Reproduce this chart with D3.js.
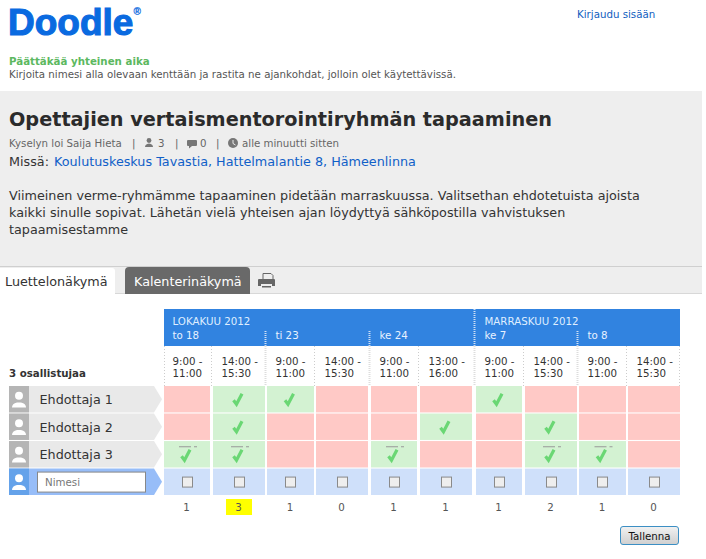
<!DOCTYPE html>
<html>
<head>
<meta charset="utf-8">
<script src="https://cdn.jsdelivr.net/npm/d3@7"></script>
<style>
html, body { margin: 0; padding: 0; background: #fff; }
svg { display: block; }
text { font-family: "DejaVu Sans", sans-serif; }
</style>
</head>
<body>
<div id="chart"></div>
<script>
// the poll
var months = [{label: "LOKAKUU 2012", slot: 0}, {label: "MARRASKUU 2012", slot: 6}];
var days = [
  {label: "to 18", slot: 0},
  {label: "ti 23", slot: 2},
  {label: "ke 24", slot: 4},
  {label: "ke 7", slot: 6},
  {label: "to 8", slot: 8}
];
var startTimes = ["9:00 -", "14:00 -", "9:00 -", "14:00 -", "9:00 -", "13:00 -", "9:00 -", "14:00 -", "9:00 -", "14:00 -"];
var endTimes = ["11:00", "15:30", "11:00", "15:30", "11:00", "16:00", "11:00", "15:30", "11:00", "15:30"];
var participants = ["Ehdottaja 1", "Ehdottaja 2", "Ehdottaja 3"];
var answers1 = [0, 1, 1, 0, 0, 0, 1, 0, 0, 0];
var answers2 = [0, 1, 0, 0, 0, 1, 0, 1, 0, 0];
var answers3 = [1, 1, 0, 0, 1, 0, 0, 1, 1, 0];
var totals = [1, 3, 1, 0, 1, 1, 1, 2, 1, 0];

var paragraph = [
  "Viimeinen verme-ryhmämme tapaaminen pidetään marraskuussa. Valitsethan ehdotetuista ajoista",
  "kaikki sinulle sopivat. Lähetän vielä yhteisen ajan löydyttyä sähköpostilla vahvistuksen",
  "tapaamisestamme"
];

var width = 706, height = 559;
var small = 10.25, body = 12.75;
var svg = d3.select("#chart").append("svg")
    .attr("width", width)
    .attr("height", height);

// column edges are uneven in the original table
var slotIds = d3.range(startTimes.length);
var colLeft = d3.scaleOrdinal().domain(slotIds).range([164, 213, 267, 316, 371, 420, 476, 525, 579, 628]);
var colWidth = d3.scaleOrdinal().domain(slotIds).range([46, 52, 47, 52, 46, 52, 46, 52, 47, 52]);
var rowY = d3.scaleBand().domain(d3.range(4)).range([386, 495]).paddingInner(0.04);
var cellFill = d3.scaleOrdinal().domain([0, 1]).range(["#ffc9c6", "#d3f2d2"]);

function label(x, y, str, size, fill, weight) {
  return svg.append("text")
    .attr("x", x).attr("y", y)
    .attr("font-size", size)
    .attr("fill", fill)
    .attr("font-weight", weight || "normal")
    .text(str);
}

// top of page, logo and its mark are one text
var logo = label(8, 35, "Doodle", 37, "#0a6ae0", "bold")
  .style("font-family", "'Liberation Sans', sans-serif")
  .attr("stroke", "#0a6ae0")
  .attr("stroke-width", 1.1);
logo.append("tspan")
  .attr("dy", -20)
  .attr("font-size", 10)
  .attr("stroke-width", 0.2)
  .text("®");
label(577, 18, "Kirjaudu sisään", small, "#1060c0");
label(9, 65, "Päättäkää yhteinen aika", small, "#5cb860", "bold");
label(9, 78, "Kirjoita nimesi alla olevaan kenttään ja rastita ne ajankohdat, jolloin olet käytettävissä.", small, "#555");

// grey info panel
svg.append("rect").attr("x", 0).attr("y", 91).attr("width", 702).attr("height", 175).attr("fill", "#eeeeee");
label(9, 126, "Opettajien vertaismentorointiryhmän tapaaminen", 19.25, "#2b2b2b", "bold");
label(9, 147, "Kyselyn loi Saija Hieta", small, "#666");
label(132, 147, "|", small, "#666");
label(158, 147, "3", small, "#666");
label(175, 147, "|", small, "#666");
label(200, 147, "0", small, "#666");
label(216, 147, "|", small, "#666");
label(242, 147, "alle minuutti sitten", small, "#666");
label(9, 166, "Missä:", body, "#333");
label(54, 166, "Koulutuskeskus Tavastia, Hattelmalantie 8, Hämeenlinna", body, "#1060c8");

svg.append("g").selectAll("text")
  .data(paragraph)
  .enter()
  .append("text")
    .attr("x", 9)
    .attr("y", (d, i) => 200 + i * 17)
    .attr("font-size", body)
    .attr("fill", "#333")
    .text(d => d);

// small meta icons
var meta = svg.append("g").attr("fill", "#777");
meta.append("circle").attr("cx", 149).attr("cy", 140.5).attr("r", 2.4);
meta.append("path").attr("d", "M145 147 q0 -3 4 -3.5 q4 0.5 4 3.5z");
meta.append("path").attr("d", "M188 140 h8 q1 0 1 1 v4 q0 1 -1 1 h-4 l-3 2.5 v-2.5 h-1 q-1 0 -1 -1 v-4 q0 -1 1 -1z");
meta.append("circle").attr("cx", 233).attr("cy", 143).attr("r", 5);
meta.append("path").attr("d", "M233 140 v3.5 l2.5 1.5").attr("stroke", "#eee").attr("fill", "none");

// tab strip
svg.append("rect").attr("x", 0).attr("y", 266).attr("width", 702).attr("height", 1).attr("fill", "#cfcfcf");
svg.append("rect").attr("x", 0).attr("y", 267).attr("width", 702).attr("height", 26).attr("fill", "#eeeeee");
svg.append("rect").attr("x", 0).attr("y", 293).attr("width", 702).attr("height", 1).attr("fill", "#d8d8d8");
svg.append("path").attr("d", "M0 268 h112 q3 0 3 3 v24 h-115z").attr("fill", "#fff");
svg.append("path").attr("d", "M129 267 h117 q4 0 4 4 v23 h-125 v-23 q0 -4 4 -4z").attr("fill", "#696969");
label(5, 286, "Luettelonäkymä", body, "#333");
label(134, 286, "Kalenterinäkymä", body, "#fff");

// printer icon
var printer = svg.append("g").attr("fill", "#666");
printer.append("path").attr("d", "M263 279 v-5.5 h8 l2 2 v3.5").attr("fill", "none").attr("stroke", "#666").attr("stroke-width", 1);
printer.append("path").attr("d", "M259 279 h15 q1 0 1 1 v6 h-3 v-2 h-11 v2 h-3 v-6 q0 -1 1 -1z");
printer.append("rect").attr("x", 262).attr("y", 286).attr("width", 9).attr("height", 1.5);

// table header
var lastSlot = slotIds[slotIds.length - 1];
var tableRight = colLeft(lastSlot) + colWidth(lastSlot);
svg.append("rect").attr("x", colLeft(0)).attr("y", 309).attr("width", tableRight - colLeft(0)).attr("height", 37).attr("fill", "#3183e0");

svg.append("g").selectAll("text")
  .data(months)
  .enter()
  .append("text")
    .attr("x", d => colLeft(d.slot) + 8.5)
    .attr("y", 325)
    .attr("font-size", small)
    .attr("fill", "#dfeeff")
    .text(d => d.label);

svg.append("g").selectAll("text")
  .data(days)
  .enter()
  .append("text")
    .attr("x", d => colLeft(d.slot) + 8.5)
    .attr("y", 339)
    .attr("font-size", small)
    .attr("fill", "#e8f2ff")
    .text(d => d.label);

// dotted separators between days and slots
var sep = svg.append("g");
days.slice(1).forEach(function(d) {
  var isMonth = months.some(m => m.slot === d.slot);
  sep.append("line")
    .attr("x1", colLeft(d.slot) - 1.5).attr("x2", colLeft(d.slot) - 1.5)
    .attr("y1", isMonth ? 309 : 331).attr("y2", 346)
    .attr("stroke", "#cfe0f5").attr("stroke-width", 2).attr("stroke-dasharray", "1 1");
  sep.append("line")
    .attr("x1", colLeft(d.slot) - 1.5).attr("x2", colLeft(d.slot) - 1.5)
    .attr("y1", 346).attr("y2", 386)
    .attr("stroke", "#dddddd").attr("stroke-width", 2).attr("stroke-dasharray", "1 1");
});
slotIds.filter(i => i % 2 === 1 || i === 0).forEach(function(i) {
  var x = i === 0 ? colLeft(0) + 0.5 : colLeft(i) - 1.5;
  sep.append("line")
    .attr("x1", x).attr("x2", x)
    .attr("y1", 346).attr("y2", 386)
    .attr("stroke", "#cccccc").attr("stroke-dasharray", "1 2");
});
sep.append("line")
  .attr("x1", tableRight - 0.5).attr("x2", tableRight - 0.5)
  .attr("y1", 346).attr("y2", 386)
  .attr("stroke", "#cccccc").attr("stroke-dasharray", "1 2");

// times
var timeCols = svg.append("g").selectAll("g")
  .data(slotIds)
  .enter()
  .append("g")
    .attr("transform", d => "translate(" + (colLeft(d) + 8.5) + ",0)");
timeCols.append("text")
  .attr("y", 365)
  .attr("font-size", small)
  .attr("fill", "#333")
  .text(d => startTimes[d]);
timeCols.append("text")
  .attr("y", 377)
  .attr("font-size", small)
  .attr("fill", "#333")
  .text(d => endTimes[d]);

label(9, 377, "3 osallistujaa", small, "#333", "bold");

// participant labels
var rowLabels = participants.concat([null]);
var rowsG = svg.append("g").selectAll("g")
  .data(rowLabels)
  .enter()
  .append("g")
    .attr("transform", (d, i) => "translate(9," + rowY(i) + ")");
var rh = rowY.bandwidth();
rowsG.append("path")
  .attr("d", "M0 0 H145 L153 " + (rh / 2) + " L145 " + rh + " H0z")
  .attr("fill", d => d ? "#e9e9e9" : "#97bdf8");
rowsG.append("rect")
  .attr("width", 20)
  .attr("height", rh)
  .attr("fill", d => d ? "#b5b5b5" : "#64a2ea");
rowsG.append("circle")
  .attr("cx", 10).attr("cy", rh / 2 - 3.5).attr("r", 4).attr("fill", "#fff");
rowsG.append("path")
  .attr("d", "M3 " + (rh - 5) + " q0 -4 5 -5 h4 q5 1 5 5z")
  .attr("fill", "#fff");
rowsG.filter(d => d).append("text")
  .attr("x", 30.5)
  .attr("y", rh / 2 + 5)
  .attr("font-size", body)
  .attr("fill", "#333")
  .text(d => d);

// name input
var inputRow = rowsG.filter(d => !d);
inputRow.append("rect")
  .attr("x", 28.5).attr("y", 3.5)
  .attr("width", 108).attr("height", 20)
  .attr("fill", "#fff").attr("stroke", "#888").attr("stroke-width", 1);
inputRow.append("text")
  .attr("x", 36).attr("y", 17.5)
  .attr("font-size", small)
  .attr("fill", "#777")
  .text("Nimesi");

// answer cells
var checkPath = "M-4.5 1 L-1.5 5 L4 -5.5";
[answers1, answers2, answers3].forEach(function(row, r) {
  var g = svg.append("g");
  g.selectAll("rect")
    .data(row)
    .enter()
    .append("rect")
      .attr("x", (d, i) => colLeft(i))
      .attr("y", rowY(r))
      .attr("width", (d, i) => colWidth(i))
      .attr("height", rh)
      .attr("fill", d => cellFill(d));
  var cells = g.selectAll("g.yes")
    .data(row.map((d, i) => ({v: d, i: i})).filter(d => d.v))
    .enter()
    .append("g")
      .attr("class", "yes")
      .attr("transform", d => "translate(" + (colLeft(d.i) + colWidth(d.i) / 2 - 1) + "," + (rowY(r) + rh / 2 + (r === 2 ? 1 : 0)) + ")");
  cells.append("path")
    .attr("d", checkPath)
    .attr("fill", "none")
    .attr("stroke", "#6ad774")
    .attr("stroke-width", 3.2);
  if (r === 2) {
    // the third participant has a small rule over each tick
    cells.append("line").attr("x1", -7).attr("x2", 5).attr("y1", -8.5).attr("y2", -8.5).attr("stroke", "#999");
    cells.append("line").attr("x1", 8).attr("x2", 11).attr("y1", -8.5).attr("y2", -8.5).attr("stroke", "#999");
  }
});

// checkbox row
var boxRow = svg.append("g").selectAll("g")
  .data(slotIds)
  .enter()
  .append("g");
boxRow.append("rect")
  .attr("x", d => colLeft(d))
  .attr("y", rowY(3))
  .attr("width", d => colWidth(d))
  .attr("height", rh)
  .attr("fill", "#cfe0fa");
boxRow.append("rect")
  .attr("x", d => Math.round(colLeft(d) + colWidth(d) / 2 - 5.5) + 0.5)
  .attr("y", rowY(3) + 8.5)
  .attr("width", 10)
  .attr("height", 10)
  .attr("fill", "#eeeeee")
  .attr("stroke", "#8a8a8a")
  .attr("stroke-width", 1);

// totals
var best = d3.max(totals);
var tot = svg.append("g").selectAll("g")
  .data(totals)
  .enter()
  .append("g")
    .attr("transform", (d, i) => "translate(" + (colLeft(i) + colWidth(i) / 2 - 0.5) + ",0)");
tot.filter(d => d === best).append("rect")
  .attr("x", -12.5).attr("y", 499)
  .attr("width", 26).attr("height", 16)
  .attr("fill", "#ffff00");
tot.append("text")
  .attr("y", 511)
  .attr("text-anchor", "middle")
  .attr("font-size", small)
  .attr("fill", "#555")
  .text(d => d);

// save button
var grad = svg.append("defs").append("linearGradient")
    .attr("id", "btn").attr("x1", 0).attr("x2", 0).attr("y1", 0).attr("y2", 1);
grad.append("stop").attr("offset", 0).attr("stop-color", "#f2f2f2");
grad.append("stop").attr("offset", 1).attr("stop-color", "#cfcfcf");
svg.append("rect")
  .attr("x", 620.5).attr("y", 526.5)
  .attr("width", 58).attr("height", 18)
  .attr("rx", 2.5)
  .attr("fill", "url(#btn)")
  .attr("stroke", "#3c8fc4");
svg.append("text")
  .attr("x", 649.5).attr("y", 539.5)
  .attr("text-anchor", "middle")
  .attr("font-size", small)
  .attr("fill", "#111")
  .text("Tallenna");
</script>
</body>
</html>
